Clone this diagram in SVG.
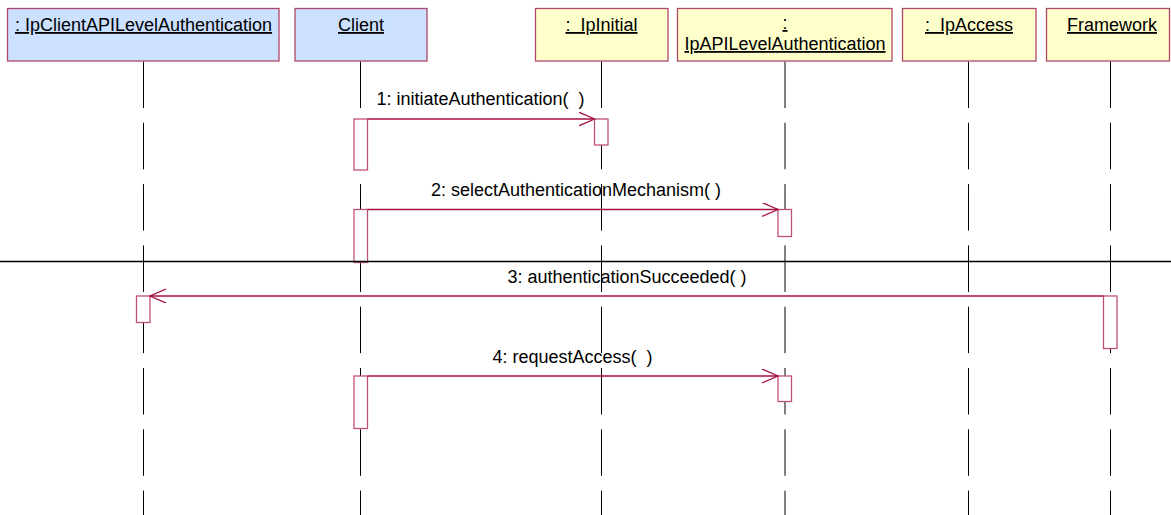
<svg xmlns="http://www.w3.org/2000/svg" width="1171" height="515" viewBox="0 0 1171 515">
<style>
.box{stroke:#b0476a;stroke-width:1.3}
.blue{fill:#cce0ff}
.yel{fill:#ffffcc}
.hdr{font-family:"Liberation Sans",Arial,sans-serif;font-size:18px;fill:#000;text-anchor:middle;text-decoration:underline}
.lbl{font-family:"Liberation Sans",Arial,sans-serif;font-size:18px;fill:#000;text-anchor:middle}
.life{stroke:#000;stroke-width:1;stroke-dasharray:46.5 14.8;fill:none}
.act{fill:#fff;stroke:#c05078;stroke-width:1.3}
.msg{stroke:#a50f45;stroke-width:1.3;fill:none}
</style>
<defs>
<marker id="open" markerUnits="userSpaceOnUse" markerWidth="20" markerHeight="16" refX="16" refY="7" orient="auto">
<path d="M0,0 L16,7 L0,14" fill="none" stroke="#a50f45" stroke-width="1.3"/>
</marker>
</defs>
<rect width="1171" height="515" fill="#fff"/>
<g id="lifelines">
<line class="life" x1="143.5" y1="61.5" x2="143.5" y2="515"/>
<line class="life" x1="360.5" y1="61.5" x2="360.5" y2="515"/>
<line class="life" x1="601.5" y1="61.5" x2="601.5" y2="515"/>
<line class="life" x1="785" y1="61.5" x2="785" y2="515"/>
<line class="life" x1="968.5" y1="61.5" x2="968.5" y2="515"/>
<line class="life" x1="1110.5" y1="61.5" x2="1110.5" y2="515"/>
</g>
<g id="n-ipclient">
<rect class="box blue" x="7.5" y="8.5" width="271.5" height="52.5"/>
<text class="hdr" x="143.5" y="31">: IpClientAPILevelAuthentication</text>
</g>
<g id="n-client">
<rect class="box blue" x="295" y="8.5" width="132" height="52.5"/>
<text class="hdr" x="361" y="31">Client</text>
</g>
<g id="n-ipinitial">
<rect class="box yel" x="535.5" y="8.5" width="132.5" height="52.5"/>
<text class="hdr" x="601.5" y="31">:&#160; IpInitial</text>
</g>
<g id="n-ipapi">
<rect class="box yel" x="677.5" y="8.5" width="214.5" height="52.5"/>
<text class="hdr" x="785" y="29">:</text>
<text class="hdr" x="785" y="50">IpAPILevelAuthentication</text>
</g>
<g id="n-ipaccess">
<rect class="box yel" x="902.5" y="8.5" width="133.5" height="52.5"/>
<text class="hdr" x="969" y="31">:&#160; IpAccess</text>
</g>
<g id="n-framework">
<rect class="box yel" x="1046.5" y="8.5" width="123" height="52.5"/>
<text class="hdr" x="1112" y="31">Framework</text>
</g>
<g id="activations">
<rect class="act" x="354" y="119" width="13.5" height="51"/>
<rect class="act" x="594.5" y="119" width="13.5" height="26"/>
<rect class="act" x="354" y="209.5" width="13.5" height="53"/>
<rect class="act" x="778" y="209.5" width="13.5" height="27"/>
<rect class="act" x="136.5" y="296" width="13.5" height="26.5"/>
<rect class="act" x="1103.5" y="296" width="13.5" height="52.5"/>
<rect class="act" x="354" y="376" width="13.5" height="52.5"/>
<rect class="act" x="778" y="376" width="13.5" height="25.5"/>
</g>
<line x1="0" y1="261.5" x2="1171" y2="261.5" stroke="#000" stroke-width="1.5"/>
<g id="connectors">
<line class="msg" x1="367.5" y1="119" x2="594.5" y2="119" marker-end="url(#open)"/>
<text class="lbl" x="480.5" y="105">1: initiateAuthentication(&#160; )</text>
<line class="msg" x1="367.5" y1="209.5" x2="778" y2="209.5" marker-end="url(#open)"/>
<text class="lbl" x="576" y="196">2: selectAuthenticationMechanism( )</text>
<line class="msg" x1="1103.5" y1="296" x2="150" y2="296" marker-end="url(#open)"/>
<text class="lbl" x="627" y="283">3: authenticationSucceeded( )</text>
<line class="msg" x1="367.5" y1="376" x2="778" y2="376" marker-end="url(#open)"/>
<text class="lbl" x="572.5" y="363">4: requestAccess(&#160; )</text>
</g>
</svg>
